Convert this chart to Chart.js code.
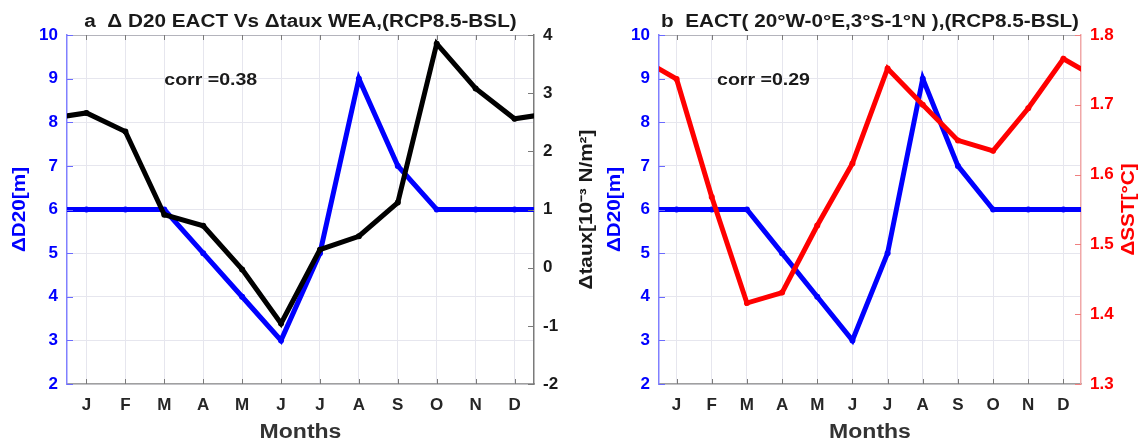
<!DOCTYPE html>
<html>
<head>
<meta charset="utf-8">
<script src="https://cdn.jsdelivr.net/npm/chart.js@4.4.0/dist/chart.umd.min.js"></script>
<style>
  body { margin: 0; background: #fff; width: 1144px; height: 442px; overflow: hidden; position: relative; }
  .panel { position: absolute; top: 0; height: 442px; }
</style>
</head>
<body>
<div class="panel" style="left:0;width:600px"><canvas id="chartA"></canvas></div>
<div class="panel" style="left:600px;width:544px"><canvas id="chartB"></canvas></div>
<script>
// Daten (RCP8.5 - BSL), Monate Jan..Dez
const months = ['J', 'F', 'M', 'A', 'M', 'J', 'J', 'A', 'S', 'O', 'N', 'D'];
const d20EACT = [6, 6, 6, 5, 4, 3, 5, 9, 7, 6, 6, 6];
const tauxWEA = [2.66, 2.34, 0.91, 0.72, -0.03, -0.96, 0.31, 0.54, 1.12, 3.85, 3.08, 2.56];
const sstEACT = [1.737, 1.568, 1.416, 1.431, 1.527, 1.616, 1.752, 1.700, 1.649, 1.634, 1.695, 1.766];

const d20Ticks = [2, 3, 4, 5, 6, 7, 8, 9, 10];
const tauTicks = [-2, -1, 0, 1, 2, 3, 4];
const sstTicks = [1.3, 1.4, 1.5, 1.6, 1.7, 1.8];

const FONT = "'Liberation Sans', Arial, sans-serif";
const H_SCALE = 1.15; // Text im Original ist etwas breiter

// Zyklisch: Dez davor, Jan danach (wird am Rand abgeschnitten)
function cyclic(vals) {
    const pts = vals.map((v, i) => ({ x: i + 1, y: v }));
    pts.unshift({ x: 0, y: vals[vals.length - 1] });
    pts.push({ x: vals.length + 1, y: vals[0] });
    return pts;
}

function fixTicks(list) {
    return scale => { scale.ticks = list.map(v => ({ value: v })); };
}

function drawText(ctx, text, x, y, font, color, rot, align) {
    ctx.save();
    ctx.translate(x, y);
    if (rot) ctx.rotate(rot);
    ctx.scale(H_SCALE, 1);
    ctx.font = font;
    ctx.fillStyle = color;
    ctx.textAlign = align || 'center';
    ctx.textBaseline = 'middle';
    ctx.fillText(text, 0, 0);
    ctx.restore();
}

const decor = {
    id: 'decor',
    afterDatasetsDraw(chart, args, o) {
        const { ctx, chartArea: a, scales } = chart;
        const cx = (a.left + a.right) / 2;
        const cy = (a.top + a.bottom) / 2;

        // Rahmen oben
        ctx.save();
        ctx.strokeStyle = '#b4b4bc';
        ctx.lineWidth = 1;
        ctx.beginPath();
        ctx.moveTo(a.left, a.top + 0.5);
        ctx.lineTo(a.right, a.top + 0.5);
        ctx.stroke();

        // Tickmarks nach innen (MATLAB-Stil)
        ctx.strokeStyle = '#7a7a7a';
        scales.x.ticks.forEach(t => {
            const px = Math.round(scales.x.getPixelForValue(t.value)) + 0.5;
            ctx.beginPath();
            ctx.moveTo(px, a.bottom); ctx.lineTo(px, a.bottom - 5);
            ctx.moveTo(px, a.top); ctx.lineTo(px, a.top + 5);
            ctx.stroke();
        });
        ctx.strokeStyle = o.leftTickColor;
        scales.y.ticks.forEach(t => {
            const py = Math.round(scales.y.getPixelForValue(t.value)) + 0.5;
            ctx.beginPath(); ctx.moveTo(a.left, py); ctx.lineTo(a.left + 6, py); ctx.stroke();
        });
        ctx.strokeStyle = o.rightTickColor;
        scales.y2.ticks.forEach(t => {
            const py = Math.round(scales.y2.getPixelForValue(t.value)) + 0.5;
            ctx.beginPath(); ctx.moveTo(a.right, py); ctx.lineTo(a.right - 6, py); ctx.stroke();
        });
        ctx.restore();
    },
    afterDraw(chart, args, o) {
        const { ctx, chartArea: a, scales } = chart;
        const cx = (a.left + a.right) / 2;
        const cy = (a.top + a.bottom) / 2;
        drawText(ctx, o.title, cx, 22, `bold 18px ${FONT}`, '#1a1a1a');
        drawText(ctx, o.corr, scales.x.getPixelForValue(o.corrX), scales.y.getPixelForValue(o.corrY),
            `bold 17px ${FONT}`, '#1a1a1a', 0, 'left');
        drawText(ctx, 'Months', cx, 432, `bold 20px ${FONT}`, '#333333');
        drawText(ctx, 'ΔD20[m]', o.leftTitleX, cy, `bold 18px ${FONT}`, '#0000ff', -Math.PI / 2);
        drawText(ctx, o.rightTitle, o.rightTitleX, cy, `bold 18px ${FONT}`, o.rightTitleColor, -Math.PI / 2);
    }
};

function makePanel(canvasId, cfg) {
    return new Chart(document.getElementById(canvasId), {
        type: 'line',
        data: {
            datasets: [
                {
                    label: cfg.rightLabel,
                    data: cyclic(cfg.rightData),
                    yAxisID: 'y2',
                    borderColor: cfg.rightColor,
                    backgroundColor: cfg.rightColor,
                    borderWidth: 5,
                    pointRadius: 3,
                    pointBorderWidth: 0,
                    tension: 0,
                    clip: 0,
                    order: 0
                },
                {
                    label: 'ΔD20',
                    data: cyclic(d20EACT),
                    yAxisID: 'y',
                    borderColor: '#0000ff',
                    backgroundColor: '#0000ff',
                    borderWidth: 5,
                    pointRadius: 3,
                    pointBorderWidth: 0,
                    tension: 0,
                    clip: 0,
                    order: 1
                }
            ]
        },
        options: {
            responsive: true,
            maintainAspectRatio: false,
            animation: false,
            layout: { padding: { top: 35, left: 0, right: 0, bottom: 0 } },
            plugins: {
                legend: { display: false },
                tooltip: { enabled: false },
                decor: cfg.decor
            },
            scales: {
                x: {
                    type: 'linear',
                    min: 0.5, max: 12.5,
                    afterBuildTicks: fixTicks(months.map((m, i) => i + 1)),
                    afterFit: s => { s.height = 58; },
                    grid: { color: '#e6e6ee', drawTicks: false },
                    border: { color: '#a0a0a0', width: 1.5 },
                    ticks: {
                        color: '#262626', padding: 11,
                        font: { family: FONT, size: 17, weight: 'bold' },
                        callback: v => months[v - 1]
                    }
                },
                y: {
                    position: 'left',
                    min: 2, max: 10,
                    afterBuildTicks: fixTicks(d20Ticks),
                    afterFit: s => { s.width = cfg.leftWidth; },
                    grid: { color: '#e6e6ee', drawTicks: false },
                    border: { color: '#8080ff', width: 1.5 },
                    ticks: { color: '#0000ff', padding: 9, font: { family: FONT, size: 17, weight: 'bold' } }
                },
                y2: {
                    position: 'right',
                    min: cfg.rightTicks[0], max: cfg.rightTicks[cfg.rightTicks.length - 1],
                    afterBuildTicks: fixTicks(cfg.rightTicks),
                    afterFit: s => { s.width = cfg.rightWidth; },
                    grid: { display: false, drawTicks: false },
                    border: { color: cfg.rightBorder, width: 1.5 },
                    ticks: {
                        color: cfg.rightTickColor, padding: 9,
                        font: { family: FONT, size: 17, weight: 'bold' },
                        callback: v => cfg.rightFmt(v)
                    }
                }
            }
        },
        plugins: [decor]
    });
}

makePanel('chartA', {
    rightLabel: 'Δtaux', rightData: tauxWEA, rightColor: '#000000',
    rightTicks: tauTicks, rightTickColor: '#1a1a1a', rightBorder: '#7a7a7a',
    rightFmt: v => String(v),
    leftWidth: 67, rightWidth: 66,
    decor: {
        title: 'a  Δ D20 EACT Vs Δtaux WEA,(RCP8.5-BSL)',
        corr: 'corr =0.38', corrX: 3.0, corrY: 8.95,
        leftTitleX: 20,
        rightTitle: 'Δtaux[10⁻³ N/m²]', rightTitleX: 587, rightTitleColor: '#1a1a1a',
        leftTickColor: '#6a6aff', rightTickColor: '#7a7a7a'
    }
});

makePanel('chartB', {
    rightLabel: 'ΔSST', rightData: sstEACT, rightColor: '#ff0000',
    rightTicks: sstTicks, rightTickColor: '#ff0000', rightBorder: '#f0a8a8',
    rightFmt: v => v.toFixed(1),
    leftWidth: 59, rightWidth: 63,
    decor: {
        title: 'b  EACT( 20°W-0°E,3°S-1°N ),(RCP8.5-BSL)',
        corr: 'corr =0.29', corrX: 2.15, corrY: 8.95,
        leftTitleX: 15,
        rightTitle: 'ΔSST[°C]', rightTitleX: 529, rightTitleColor: '#ff0000',
        leftTickColor: '#6a6aff', rightTickColor: '#f08080'
    }
});
</script>
</body>
</html>
